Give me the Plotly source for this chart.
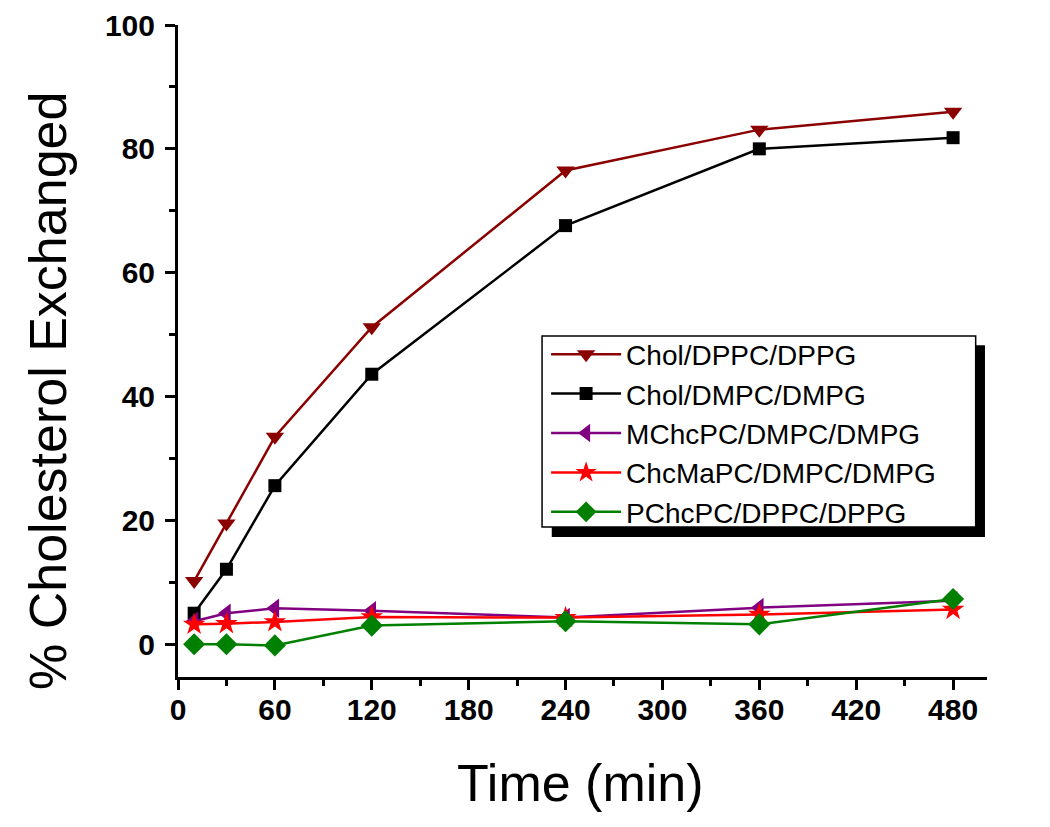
import plotly.graph_objects as go

time_min = [10, 30, 60, 120, 240, 360, 480]
names = ["Chol/DPPC/DPPG", "Chol/DMPC/DMPG", "MChcPC/DMPC/DMPG", "ChcMaPC/DMPC/DMPG", "PChcPC/DPPC/DPPG"]
chol_dppc = [10.2, 19.5, 33.5, 51.2, 76.5, 83.1, 86.0]
chol_dmpc = [5.0, 12.1, 25.6, 43.6, 67.6, 80.0, 81.8]
mchc = [3.7, 5.0, 5.8, 5.4, 4.3, 5.9, 7.0]
chcma = [3.2, 3.3, 3.6, 4.4, 4.3, 4.8, 5.6]
pchc = [0.0, 0.0, -0.2, 3.0, 3.7, 3.2, 7.3]
series = [chol_dppc, chol_dmpc, mchc, chcma, pchc]
colors = ["#8B0000", "#000000", "#800080", "#FF0000", "#008000"]
symbols = ["triangle-down", "square", "triangle-left", "star", "diamond"]
sizes = [16, 13, 17, 17, 17]

FONT = "Arial, Liberation Sans, sans-serif"

fig = go.Figure()
for name, ys, c, s, sz in zip(names, series, colors, symbols, sizes):
    fig.add_trace(go.Scatter(x=time_min, y=ys, name=name, mode="lines+markers",
                             line=dict(color=c, width=2.5),
                             marker=dict(symbol=s, size=sz, color=c, line=dict(width=0))))

axis_common = dict(showline=True, linecolor="black", linewidth=3, ticks="outside",
                   ticklen=10, tickwidth=3, tickcolor="black", showgrid=False, zeroline=False,
                   mirror=False, automargin=False,
                   tickfont=dict(family=FONT, size=30, color="black", weight="bold"),
                   minor=dict(ticks="outside", ticklen=6, tickwidth=3, tickcolor="black", showgrid=False))

fig.update_xaxes(range=[0, 501], tickvals=[0, 60, 120, 180, 240, 300, 360, 420, 480],
                 ticklabelstandoff=-6, **axis_common)
fig.update_xaxes(minor=dict(tickvals=[30, 90, 150, 210, 270, 330, 390, 450]))
fig.update_yaxes(range=[-5.3, 100], tickvals=[0, 20, 40, 60, 80, 100],
                 ticklabelstandoff=4, **axis_common)
fig.update_yaxes(minor=dict(tickvals=[10, 30, 50, 70, 90]))

# axis titles
fig.add_annotation(text="Time (min)", xref="paper", yref="paper", x=0.498, y=-0.1626,
                   xanchor="center", yanchor="middle", showarrow=False,
                   font=dict(family=FONT, size=52, color="black"))
fig.add_annotation(text="% Cholesterol Exchanged", xref="paper", yref="paper", x=-0.1607, y=0.4387,
                   xanchor="center", yanchor="middle", showarrow=False, textangle=-90,
                   font=dict(family=FONT, size=52, color="black"))

# legend box with drop shadow
fig.add_shape(type="rect", xref="paper", yref="paper", x0=0.462, x1=0.9975, y0=0.2147, y1=0.509,
              fillcolor="black", line=dict(width=0), layer="above")
fig.add_shape(type="rect", xref="paper", yref="paper", x0=0.450, x1=0.986, y0=0.230, y1=0.523,
              fillcolor="white", line=dict(color="black", width=1.5), layer="above")

fig.update_layout(
    width=1042, height=819,
    margin=dict(l=170, r=63, t=17, b=150),
    paper_bgcolor="white", plot_bgcolor="white",
    showlegend=True,
    legend=dict(x=0.455, y=0.533, xanchor="left", yanchor="top",
                bgcolor="rgba(0,0,0,0)", borderwidth=0,
                font=dict(family=FONT, size=28, color="black"),
                tracegroupgap=0, itemwidth=70),
)

fig.write_html("out.html")
